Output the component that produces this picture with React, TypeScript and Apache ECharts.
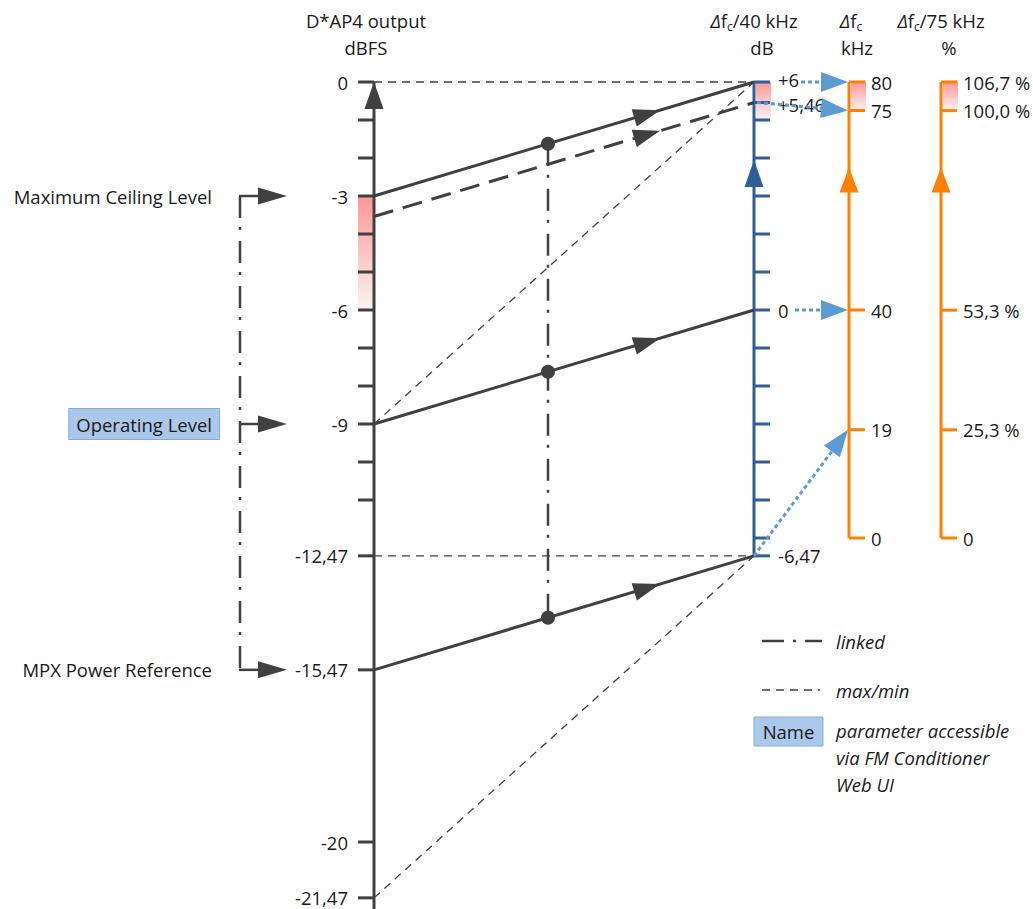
import React, { useEffect, useRef } from "react";
import * as echarts from "echarts";

const W = 1033;
const H = 909;

// ---------------- data ----------------
const DBFS_TICKS_LABELLED = [0, -3, -6, -9, -12.47, -15.47, -20, -21.47];
const DBFS_TICKS_MINOR = [-1, -2, -4, -5, -7, -8, -10, -11];
const DB_TICKS_LABELLED = [6, 5.46, 0, -6.47];
const DB_TICKS_MINOR = [5, 4, 3, 2, 1, -1, -2, -3, -4, -5, -6];
const KHZ_TICKS = [80, 75, 40, 19, 0];
const PCT_TICKS = [106.7, 100.0, 53.3, 25.3, 0];

const LEVEL_NAMES = ["Maximum Ceiling Level", "Operating Level", "MPX Power Reference"];
const LEVEL_DBFS = [-3, -9, -15.47];
const LEVEL_IN_WEB_UI = [false, true, false];

const LINK_FROM_DBFS = [-3, -9, -15.47];
const LINK_TO_DB = [6, 0, -6.47];
const CEILING_FROM_DBFS = [-3.54];
const CEILING_TO_DB = [5.46];
const MAXMIN_FROM_DBFS = [0, -9, -12.47, -21.47];
const MAXMIN_TO_DB = [6, 6, -6.47, -6.47];
const MAP_FROM_DB = [6, 5.46, 0, -6.47];
const MAP_TO_KHZ = [80, 75, 40, 19];
const HEADROOM_DBFS = [-3, -6];
const HEADROOM_DB = [6, 5];
const HEADROOM_KHZ = [80, 75];
const HEADROOM_PCT = [106.7, 100];
const DB_ZERO_AT_DBFS = -6; // 0 dB (Δfc / 40 kHz) corresponds to -6 dBFS

// ---------------- layout / style ----------------
const FONT = "'Open Sans', 'Noto Sans', sans-serif";
const FS = 18.5;
const TEXT = "#1a1a1a";
const DARK = "#404040";
const BLUE_AX = "#2f5f96";
const BLUE_ARROW = "#5b9bd5";
const ORANGE = "#ff8000";
const BOX_FILL = "#abc7e9";
const BOX_STROKE = "#85acd9";

const PX_PER_DB = 38;
const Y_ZERO_DBFS = 82;
const Y_KHZ_TOP = 82;
const Y_KHZ_ZERO = 538;
const X_LEFT = 374;
const X_DB = 754;
const X_KHZ = 849;
const X_PCT = 941;
const X_LINK = 548;
const X_BRACKET = 240;
const TICK = 16;
const ARROW_T = 0.753;
const MAP_START_GAP = [47, 3, 41, 0];
const DB_LABEL_DY = [-3, 2, 0, 0];
const DASH_DOT = [22, 9, 3, 11];

const dbfsMax = Y_ZERO_DBFS / PX_PER_DB;
const dbfsMin = -(H - Y_ZERO_DBFS) / PX_PER_DB;
const khzPx = (Y_KHZ_ZERO - Y_KHZ_TOP) / KHZ_TICKS[0];
const khzMax = KHZ_TICKS[0] + Y_KHZ_TOP / khzPx;
const khzMin = -(H - Y_KHZ_ZERO) / khzPx;
const pctPx = (Y_KHZ_ZERO - Y_KHZ_TOP) / PCT_TICKS[0];
const pctMax = PCT_TICKS[0] + Y_KHZ_TOP / pctPx;
const pctMin = -(H - Y_KHZ_ZERO) / pctPx;

const fmtNum = (v: number) => String(v).replace(".", ",");
const fmtDb = (v: number) => (v > 0 ? "+" : "") + fmtNum(v);
const fmtPct = (v: number) => (v === 0 ? "0" : v.toFixed(1).replace(".", ",") + " %");

const txt = (text: string, x: number, y: number, align: string, extra: any = {}) => ({
  type: "text",
  style: { text, x, y, align, verticalAlign: "middle", fill: TEXT, fontSize: FS, fontFamily: FONT, ...extra },
});
const seg = (x1: number, y1: number, x2: number, y2: number, stroke: string, lineWidth: number, lineDash?: number[]) => {
  const style: any = { stroke, lineWidth, fill: null };
  if (lineDash) style.lineDash = lineDash;
  return { type: "line", shape: { x1, y1, x2, y2 }, style };
};
const head = (tx: number, ty: number, fx: number, fy: number, len: number, half: number, fill: string) => {
  const dx = tx - fx;
  const dy = ty - fy;
  const d = Math.hypot(dx, dy) || 1;
  const ux = dx / d;
  const uy = dy / d;
  const bx = tx - ux * len;
  const by = ty - uy * len;
  return {
    type: "polygon",
    shape: { points: [[tx, ty], [bx - uy * half, by + ux * half], [bx + uy * half, by - ux * half]] },
    style: { fill },
  };
};

export default function App() {
  const ref = useRef<HTMLDivElement>(null);

  useEffect(() => {
    if (!ref.current) return;
    const chart = echarts.init(ref.current, null, { renderer: "svg" });
    const toPx = (yAxisIndex: number, x: number, v: number) =>
      chart.convertToPixel({ xAxisIndex: 0, yAxisIndex } as any, [x, v]) as unknown as number[];

    const tickSeries = (
      yAxisIndex: number,
      x: number,
      values: number[],
      dir: number,
      color: string,
      labels: string[] | null,
      labelDx: number,
      align: string,
      labelDy?: number[]
    ) => ({
      type: "custom",
      xAxisIndex: 0,
      yAxisIndex,
      silent: true,
      z: 5,
      data: values.map((v) => [x, v]),
      renderItem: (params: any, api: any) => {
        const p = api.coord([api.value(0), api.value(1)]);
        const children: any[] = [seg(p[0], p[1], p[0] + dir * TICK, p[1], color, 3)];
        if (labels) {
          const dy = labelDy ? labelDy[params.dataIndex] : 0;
          children.push(txt(labels[params.dataIndex], p[0] + labelDx, p[1] + dy, align));
        }
        return { type: "group", children };
      },
    });

    const axisLine = (yAxisIndex: number, x: number, top: number, bottom: number, color: string) => ({
      type: "line",
      xAxisIndex: 0,
      yAxisIndex,
      data: [[x, top], [x, bottom]],
      symbol: "none",
      silent: true,
      z: 4,
      lineStyle: { color, width: 3 },
    });

    const headroom = (yAxisIndex: number, xa: number, xb: number, range: number[]) => ({
      type: "custom",
      xAxisIndex: 0,
      yAxisIndex,
      silent: true,
      z: 2,
      data: [[range[0], range[1]]],
      renderItem: (_p: any, api: any) => {
        const a = api.coord([xa, api.value(0)]);
        const b = api.coord([xb, api.value(1)]);
        return {
          type: "rect",
          shape: { x: Math.min(a[0], b[0]), y: a[1], width: Math.abs(b[0] - a[0]), height: b[1] - a[1] },
          style: {
            fill: new echarts.graphic.LinearGradient(0, 0, 0, 1, [
              { offset: 0, color: "#ff9797" },
              { offset: 1, color: "#fbf3f3" },
            ]),
          },
        };
      },
    });

    const upArrow = (yAxisIndex: number, x: number, v: number, color: string, len: number) => ({
      type: "custom",
      xAxisIndex: 0,
      yAxisIndex,
      silent: true,
      z: 6,
      data: [[x, v]],
      renderItem: (_p: any, api: any) => {
        const p = api.coord([api.value(0), api.value(1)]);
        return head(p[0], p[1], p[0], p[1] + 50, len, 9.5, color);
      },
    });

    const linkSeries = (from: number[], toDb: number[], dash?: number[]) => ({
      type: "custom",
      xAxisIndex: 0,
      yAxisIndex: 0,
      silent: true,
      z: 6,
      data: from.map((f, i) => [f, toDb[i] + DB_ZERO_AT_DBFS]),
      renderItem: (_p: any, api: any) => {
        const a = api.coord([X_LEFT, api.value(0)]);
        const b = api.coord([X_DB, api.value(1)]);
        const tx = a[0] + (b[0] - a[0]) * ARROW_T;
        const ty = a[1] + (b[1] - a[1]) * ARROW_T;
        return {
          type: "group",
          children: [seg(a[0], a[1], b[0], b[1], DARK, 3, dash), head(tx, ty, a[0], a[1], 27, 9, DARK)],
        };
      },
    });

    const frac = (X_LINK - X_LEFT) / (X_DB - X_LEFT);
    const dotVals = LINK_FROM_DBFS.map((f, i) => f + (LINK_TO_DB[i] + DB_ZERO_AT_DBFS - f) * frac);

    const series: any[] = [
      headroom(0, X_LEFT - TICK, X_LEFT - 1, HEADROOM_DBFS),
      headroom(1, X_DB + 2, X_DB + TICK + 1, HEADROOM_DB),
      headroom(2, X_KHZ + 2, X_KHZ + TICK + 1, HEADROOM_KHZ),
      headroom(3, X_PCT + 2, X_PCT + TICK + 1, HEADROOM_PCT),

      axisLine(0, X_LEFT, DBFS_TICKS_LABELLED[0], dbfsMin, DARK),
      axisLine(1, X_DB, DB_TICKS_LABELLED[0], DB_TICKS_LABELLED[DB_TICKS_LABELLED.length - 1], BLUE_AX),
      axisLine(2, X_KHZ, KHZ_TICKS[0], KHZ_TICKS[KHZ_TICKS.length - 1], ORANGE),
      axisLine(3, X_PCT, PCT_TICKS[0], PCT_TICKS[PCT_TICKS.length - 1], ORANGE),

      tickSeries(0, X_LEFT, DBFS_TICKS_LABELLED, -1, DARK, DBFS_TICKS_LABELLED.map(fmtNum), -26, "right"),
      tickSeries(0, X_LEFT, DBFS_TICKS_MINOR, -1, DARK, null, 0, "left"),
      tickSeries(1, X_DB, DB_TICKS_LABELLED, 1, BLUE_AX, DB_TICKS_LABELLED.map(fmtDb), 24, "left", DB_LABEL_DY),
      tickSeries(1, X_DB, DB_TICKS_MINOR, 1, BLUE_AX, null, 0, "left"),
      tickSeries(2, X_KHZ, KHZ_TICKS, 1, ORANGE, KHZ_TICKS.map(fmtNum), 22, "left"),
      tickSeries(3, X_PCT, PCT_TICKS, 1, ORANGE, PCT_TICKS.map(fmtPct), 22, "left"),

      upArrow(0, X_LEFT, DBFS_TICKS_LABELLED[0], DARK, 27),
      upArrow(1, X_DB, 3.95, BLUE_AX, 27),
      upArrow(2, X_KHZ, 65, ORANGE, 25),
      upArrow(3, X_PCT, 86.7, ORANGE, 25),

      // max / min thin dashed
      {
        type: "custom",
        xAxisIndex: 0,
        yAxisIndex: 0,
        silent: true,
        z: 3,
        data: MAXMIN_FROM_DBFS.map((f, i) => [f, MAXMIN_TO_DB[i] + DB_ZERO_AT_DBFS]),
        renderItem: (_p: any, api: any) => {
          const a = api.coord([X_LEFT, api.value(0)]);
          const b = api.coord([X_DB, api.value(1)]);
          return seg(a[0], a[1], b[0], b[1], DARK, 1.3, [8, 6]);
        },
      },

      linkSeries(LINK_FROM_DBFS, LINK_TO_DB),
      linkSeries(CEILING_FROM_DBFS, CEILING_TO_DB, [20, 10]),

      // linked (dash-dot) vertical
      {
        type: "line",
        xAxisIndex: 0,
        yAxisIndex: 0,
        symbol: "none",
        silent: true,
        z: 5,
        data: [[X_LINK, dotVals[0]], [X_LINK, dotVals[dotVals.length - 1]]],
        lineStyle: { color: DARK, width: 2.5, type: DASH_DOT },
      },
      {
        type: "scatter",
        xAxisIndex: 0,
        yAxisIndex: 0,
        silent: true,
        z: 7,
        symbolSize: 14,
        itemStyle: { color: DARK, opacity: 1 },
        data: dotVals.map((v) => [X_LINK, v]),
      },

      // dB -> kHz mapping arrows
      {
        type: "custom",
        xAxisIndex: 0,
        yAxisIndex: 1,
        silent: true,
        z: 6,
        data: MAP_FROM_DB.map((d, i) => [X_DB + MAP_START_GAP[i], d]),
        renderItem: (params: any, api: any) => {
          const a = api.coord([api.value(0), api.value(1)]);
          const b = toPx(2, X_KHZ - 1, MAP_TO_KHZ[params.dataIndex]);
          const dx = b[0] - a[0];
          const dy = b[1] - a[1];
          const d = Math.hypot(dx, dy) || 1;
          const bx = b[0] - (dx / d) * 26;
          const by = b[1] - (dy / d) * 26;
          return {
            type: "group",
            children: [seg(a[0], a[1], bx, by, BLUE_ARROW, 3, [4, 3]), head(b[0], b[1], a[0], a[1], 27, 10, BLUE_ARROW)],
          };
        },
      },

      // left bracket (linked levels)
      {
        type: "line",
        xAxisIndex: 0,
        yAxisIndex: 0,
        symbol: "none",
        silent: true,
        z: 5,
        data: [[X_BRACKET, LEVEL_DBFS[0]], [X_BRACKET, LEVEL_DBFS[LEVEL_DBFS.length - 1]]],
        lineStyle: { color: DARK, width: 2.5, type: DASH_DOT },
      },
      {
        type: "custom",
        xAxisIndex: 0,
        yAxisIndex: 0,
        silent: true,
        z: 6,
        data: LEVEL_DBFS.map((v) => [X_BRACKET, v]),
        renderItem: (params: any, api: any) => {
          const p = api.coord([api.value(0), api.value(1)]);
          const i = params.dataIndex;
          const label = LEVEL_IN_WEB_UI[i]
            ? txt(LEVEL_NAMES[i], 219, p[1], "right", {
                backgroundColor: BOX_FILL,
                borderColor: BOX_STROKE,
                borderWidth: 1,
                padding: [6, 7, 5, 7],
              })
            : txt(LEVEL_NAMES[i], 212, p[1], "right");
          return {
            type: "group",
            children: [
              seg(p[0] - 1, p[1], p[0] + 20, p[1], DARK, 2.5),
              head(p[0] + 47, p[1], p[0], p[1], 29, 8.5, DARK),
              label,
            ],
          };
        },
      },
    ];

    const rich = {
      d: { fontStyle: "italic", fontSize: FS, fontFamily: FONT, lineHeight: 24, fill: TEXT },
      n: { fontSize: FS, fontFamily: FONT, lineHeight: 24, fill: TEXT },
      s: { fontSize: 12, fontFamily: FONT, lineHeight: 12, verticalAlign: "bottom", fill: TEXT },
    };
    const gText = (text: string, x: number, y: number, align: string, extra: any = {}) => ({
      type: "text",
      x,
      y,
      silent: true,
      style: { text, align, verticalAlign: "middle", fill: TEXT, fontSize: FS, fontFamily: FONT, ...extra },
    });

    const graphic = [
      gText("D*AP4 output", 366, 20, "center"),
      gText("dBFS", 366, 47, "center"),
      gText("{d|Δ}{n|f}{s|c}{n|/40 kHz}", 754, 20, "center", { rich }),
      gText("dB", 762, 47, "center"),
      gText("{d|Δ}{n|f}{s|c}", 851, 20, "center", { rich }),
      gText("kHz", 857, 47, "center"),
      gText("{d|Δ}{n|f}{s|c}{n|/75 kHz}", 941, 20, "center", { rich }),
      gText("%", 949, 47, "center"),
      // legend
      { type: "line", silent: true, shape: { x1: 762, y1: 641, x2: 822, y2: 641 }, style: { stroke: DARK, lineWidth: 2.5, lineDash: [22, 9, 3, 9] } },
      gText("linked", 836, 641, "left", { fontStyle: "italic" }),
      { type: "line", silent: true, shape: { x1: 762, y1: 690, x2: 820, y2: 690 }, style: { stroke: DARK, lineWidth: 1.3, lineDash: [8, 6] } },
      gText("max/min", 836, 690, "left", { fontStyle: "italic" }),
      { type: "rect", silent: true, shape: { x: 754, y: 717, width: 69, height: 29 }, style: { fill: BOX_FILL, stroke: BOX_STROKE, lineWidth: 1 } },
      gText("Name", 788.5, 731.5, "center"),
      gText("parameter accessible", 836, 730, "left", { fontStyle: "italic" }),
      gText("via FM Conditioner", 836, 757, "left", { fontStyle: "italic" }),
      gText("Web UI", 836, 784, "left", { fontStyle: "italic" }),
    ];

    const option: any = {
      animation: false,
      backgroundColor: "#ffffff",
      textStyle: { fontFamily: FONT },
      grid: { left: 0, right: 0, top: 0, bottom: 0, containLabel: false },
      xAxis: { type: "value", min: 0, max: W, show: false },
      yAxis: [
        { type: "value", min: dbfsMin, max: dbfsMax, show: false },
        { type: "value", min: dbfsMin - DB_ZERO_AT_DBFS, max: dbfsMax - DB_ZERO_AT_DBFS, show: false },
        { type: "value", min: khzMin, max: khzMax, show: false },
        { type: "value", min: pctMin, max: pctMax, show: false },
      ],
      series,
      graphic: { elements: graphic },
    };
    chart.setOption(option);
    return () => chart.dispose();
  }, []);

  return <div ref={ref} style={{ position: "absolute", left: 0, top: 0, width: W, height: H }} />;
}
